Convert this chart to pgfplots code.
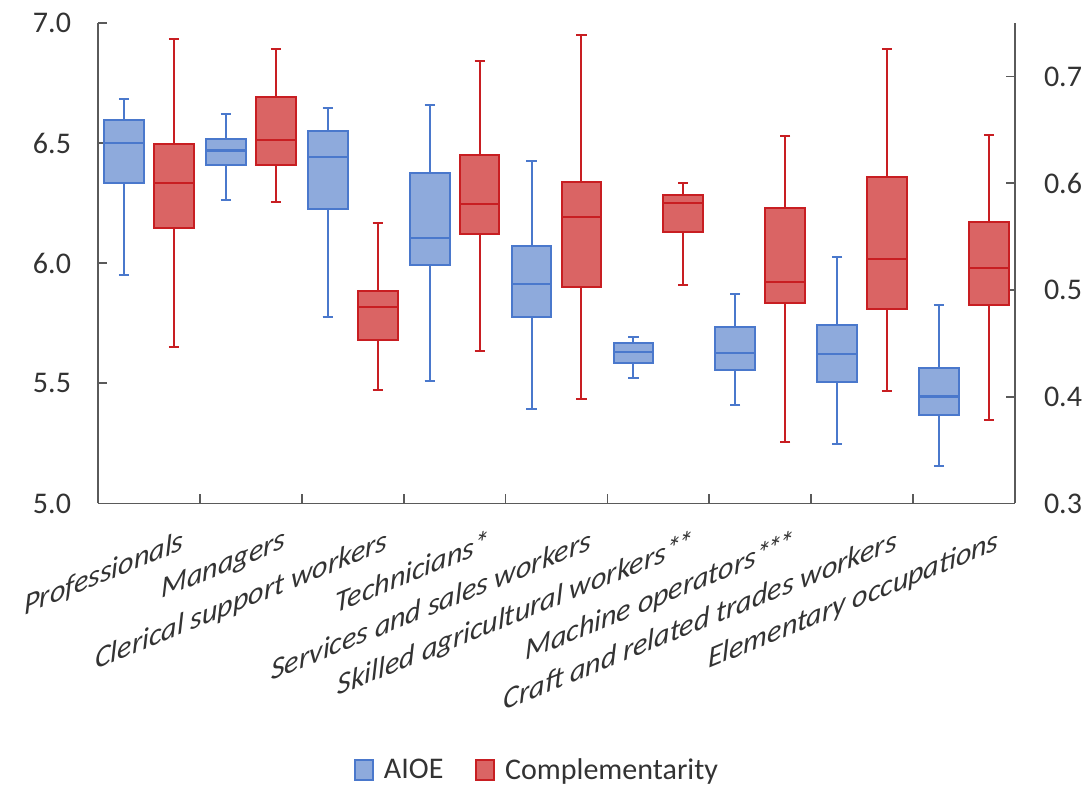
\documentclass[border=0pt]{standalone}
\usepackage{fontspec}
\setmainfont{Carlito}
\usepackage{pgfplots}
\usepgfplotslibrary{statistics}
\pgfplotsset{compat=1.18}

\definecolor{aioeEdge}{HTML}{4A78CC}
\definecolor{aioeFill}{HTML}{8EAADC}
\definecolor{compEdge}{HTML}{C81E22}
\definecolor{compFill}{HTML}{DA6464}
\definecolor{axisGray}{HTML}{5A5A5A}

\pgfplotsset{
  occframe/.style={
    scale only axis, width=458pt, height=240pt,
    xmin=0.5, xmax=9.5,
    tick align=inside,
    major tick length=4.5pt, minor tick length=4.5pt,
    axis line style={axisGray, line width=0.9pt},
    every tick/.style={axisGray, line width=0.9pt},
    tick label style={font=\fontsize{15}{18}\selectfont, text=black!80},
    yticklabel style={/pgf/number format/fixed, /pgf/number format/fixed zerofill,
      /pgf/number format/precision=1, /pgf/number format/assume math mode=true},
    boxplot/draw direction=y,
    boxplot/box extend=0.39,
    boxplot/whisker extend=0.1,
    boxplot/every whisker/.style={line width=1pt},
    boxplot/every median/.style={line width=1.1pt},
  },
  aioe/.style={draw=aioeEdge, fill=aioeFill, line width=1pt, solid, mark=none},
  comp/.style={draw=compEdge, fill=compFill, line width=1pt, solid, mark=none},
}

\begin{document}
\begin{tikzpicture}
% page margins as in the reference (axis frame sits at the origin)
\useasboundingbox (-49pt,-141.5pt) rectangle (496.5pt,251.5pt);

% left axis: AIOE
\begin{axis}[occframe,
  axis x line*=bottom, axis y line*=left,
  ymin=5, ymax=7, ytick={5,5.5,6,6.5,7},
  yticklabel style={xshift=-10pt},
  xtick={1,...,9},
  major x tick style={draw=none},
  minor xtick={1.5,2.5,...,8.5},
  xticklabels={Professionals, Managers, Clerical support workers, Technicians*,
    Services and sales workers, Skilled agricultural workers*\kern-0.1em*,
    Machine operators*\kern-0.1em*\kern-0.1em*, Craft and related trades workers, Elementary occupations},
  xticklabel style={font=\fontsize{15}{18}\selectfont\itshape, anchor=north east,
    xshift=18.5pt, yshift=-11pt, yslant=0.41, inner sep=1pt},
  legend style={at={(0.48,-0.555)}, anchor=center, draw=none, fill=none,
    legend columns=2, font=\fontsize{15}{18}\selectfont, text=black!80,
    /tikz/every odd column/.append style={column sep=3pt},
    /tikz/every even column/.append style={column sep=14pt}},
  legend image code/.code={\draw[#1, line width=0.8pt] (0pt,-5pt) rectangle (9pt,5pt);},
]
\addlegendimage{draw=aioeEdge, fill=aioeFill}
\addlegendimage{draw=compEdge, fill=compFill}
\legend{AIOE, Complementarity}

\addplot[aioe, boxplot prepared={draw position=0.755, lower whisker=5.950, lower quartile=6.335, median=6.500, upper quartile=6.596, upper whisker=6.683}] coordinates {};
\addplot[aioe, boxplot prepared={draw position=1.755, lower whisker=6.263, lower quartile=6.407, median=6.469, upper quartile=6.516, upper whisker=6.622}] coordinates {};
\addplot[aioe, boxplot prepared={draw position=2.755, lower whisker=5.778, lower quartile=6.225, median=6.443, upper quartile=6.551, upper whisker=6.646}] coordinates {};
\addplot[aioe, boxplot prepared={draw position=3.755, lower whisker=5.510, lower quartile=5.993, median=6.106, upper quartile=6.374, upper whisker=6.658}] coordinates {};
\addplot[aioe, boxplot prepared={draw position=4.755, lower whisker=5.392, lower quartile=5.778, median=5.913, upper quartile=6.072, upper whisker=6.426}] coordinates {};
\addplot[aioe, boxplot prepared={draw position=5.755, lower whisker=5.523, lower quartile=5.583, median=5.630, upper quartile=5.669, upper whisker=5.695}] coordinates {};
\addplot[aioe, boxplot prepared={draw position=6.755, lower whisker=5.408, lower quartile=5.556, median=5.628, upper quartile=5.734, upper whisker=5.873}] coordinates {};
\addplot[aioe, boxplot prepared={draw position=7.755, lower whisker=5.248, lower quartile=5.506, median=5.622, upper quartile=5.743, upper whisker=6.025}] coordinates {};
\addplot[aioe, boxplot prepared={draw position=8.755, lower whisker=5.155, lower quartile=5.370, median=5.445, upper quartile=5.563, upper whisker=5.827}] coordinates {};
\end{axis}

% right axis: Complementarity
\begin{axis}[occframe,
  axis x line=none, axis y line*=right,
  ymin=0.3, ymax=0.75, ytick={0.3,0.4,0.5,0.6,0.7},
  yticklabel style={xshift=11pt},
]
\addplot[comp, boxplot prepared={draw position=1.245, lower whisker=0.4466, lower quartile=0.5581, median=0.6003, upper quartile=0.6370, upper whisker=0.7348}] coordinates {};
\addplot[comp, boxplot prepared={draw position=2.245, lower whisker=0.5823, lower quartile=0.6171, median=0.6407, upper quartile=0.6807, upper whisker=0.7258}] coordinates {};
\addplot[comp, boxplot prepared={draw position=3.245, lower whisker=0.4062, lower quartile=0.4531, median=0.4842, upper quartile=0.4988, upper whisker=0.5624}] coordinates {};
\addplot[comp, boxplot prepared={draw position=4.245, lower whisker=0.4425, lower quartile=0.5528, median=0.5804, upper quartile=0.6267, upper whisker=0.7140}] coordinates {};
\addplot[comp, boxplot prepared={draw position=5.245, lower whisker=0.3975, lower quartile=0.5025, median=0.5686, upper quartile=0.6009, upper whisker=0.7385}] coordinates {};
\addplot[comp, boxplot prepared={draw position=6.245, lower whisker=0.5050, lower quartile=0.5547, median=0.5817, upper quartile=0.5885, upper whisker=0.6003}] coordinates {};
\addplot[comp, boxplot prepared={draw position=7.245, lower whisker=0.3571, lower quartile=0.4882, median=0.5071, upper quartile=0.5764, upper whisker=0.6441}] coordinates {};
\addplot[comp, boxplot prepared={draw position=8.245, lower whisker=0.4056, lower quartile=0.4823, median=0.5286, upper quartile=0.6056, upper whisker=0.7258}] coordinates {};
\addplot[comp, boxplot prepared={draw position=9.245, lower whisker=0.3783, lower quartile=0.4863, median=0.5208, upper quartile=0.5640, upper whisker=0.6447}] coordinates {};
\end{axis}
\end{tikzpicture}
\end{document}
